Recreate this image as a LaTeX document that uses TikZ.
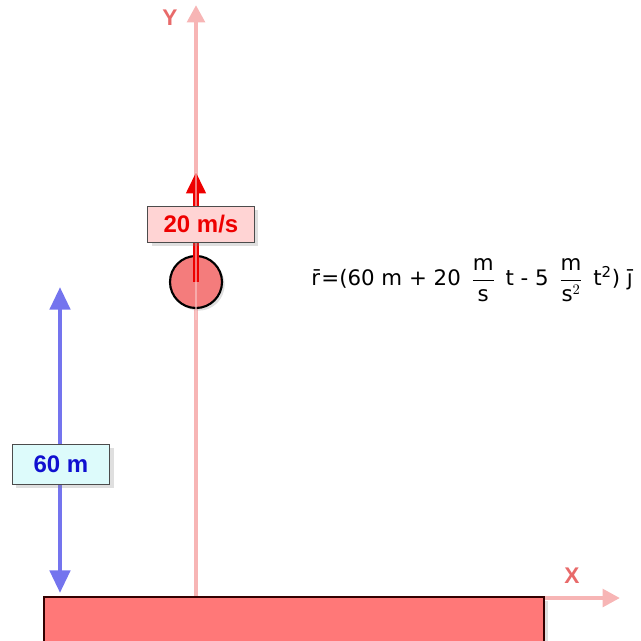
\documentclass[tikz,border=0pt]{standalone}
\usepackage{fontspec}
\usepackage{amsmath}
\setmainfont{DejaVu Sans}
\newfontfamily\lblfont{Liberation Sans}
\usetikzlibrary{arrows.meta,shadows}
\definecolor{axiscol}{HTML}{F7B5B5}
\definecolor{axislbl}{HTML}{E86A6A}
\definecolor{groundfill}{HTML}{FF7878}
\definecolor{ballfill}{HTML}{F47C7C}
\definecolor{velcol}{HTML}{EE0000}
\definecolor{velbox}{HTML}{FFD4D4}
\definecolor{distcol}{HTML}{7474EE}
\definecolor{distbox}{HTML}{DDFBFB}
\definecolor{disttext}{HTML}{1010D0}
\tikzset{
  axisline/.style={axiscol,line width=3.5pt,-{Triangle[width=13pt,length=13pt]}},
  axislabel/.style={text=axislbl,font=\lblfont\bfseries\fontsize{17}{19}\selectfont},
  labelbox/.style={draw=black!70,line width=0.7pt,inner xsep=6pt,inner ysep=3pt,minimum height=27pt,
     font=\lblfont\bfseries\fontsize{18}{20}\selectfont,
     drop shadow={opacity=0.25,shadow xshift=3pt,shadow yshift=-3pt}},
}
\begin{document}
\begin{tikzpicture}[x=0.75pt,y=-0.75pt]
\useasboundingbox (0,0) rectangle (641,640);
% axes
\coordinate (origin) at (196,598);
\coordinate (ytip) at (196,5);
\coordinate (xtip) at (620,598);
\draw[axisline] (origin) -- (ytip);
\draw[axisline] (origin) -- (xtip);
\node[axislabel] (ylbl) at (170,18) {Y};
\node[axislabel] (xlbl) at (572,576) {X};
% ground
\node[draw=black!80!red,line width=1.2pt,fill=groundfill,minimum width=375pt,minimum height=40pt,inner sep=0pt,anchor=north west,
  drop shadow={opacity=0.25,shadow xshift=3pt,shadow yshift=-3pt}] (ground) at (43,596) {};
% ball
\node[circle,draw=black,line width=1.6pt,fill=ballfill,minimum size=39pt,inner sep=0pt,
  drop shadow={opacity=0.25,shadow xshift=2pt,shadow yshift=-2pt}] (ball) at (196,282) {};
\coordinate (velend) at (196,172);
\draw[velcol,line width=3.8pt,-{Triangle[width=14pt,length=16pt]}] (ball.center) -- (velend);
\draw[axiscol!70,line width=2pt,opacity=0.6] (196,172) -- (196,320);
\node[labelbox,fill=velbox,text=velcol,minimum width=80pt] (vlbl) at (201,224) {20 m/s};
% distance
\coordinate (dtop) at (60,287);
\coordinate (dbot) at (60,593);
\draw[distcol,line width=3.5pt,{Triangle[width=15pt,length=17pt]}-{Triangle[width=15pt,length=17pt]}] (dtop) -- (dbot);
\node[labelbox,fill=distbox,text=disttext,minimum width=73pt,minimum height=30pt] (dlbl) at (61,464) {60 m};
% equation
\node[anchor=west,font=\fontsize{16}{18}\selectfont,inner sep=0pt] (eq) at (311,280)
 {r̄\kern1pt=(60 m + 20 \,$\dfrac{\text{m}}{\text{s}}$\, t - 5 \,$\dfrac{\text{m}}{\text{s}^{2}}$\, t\textsuperscript{2}) j̄};
\end{tikzpicture}
\end{document}
